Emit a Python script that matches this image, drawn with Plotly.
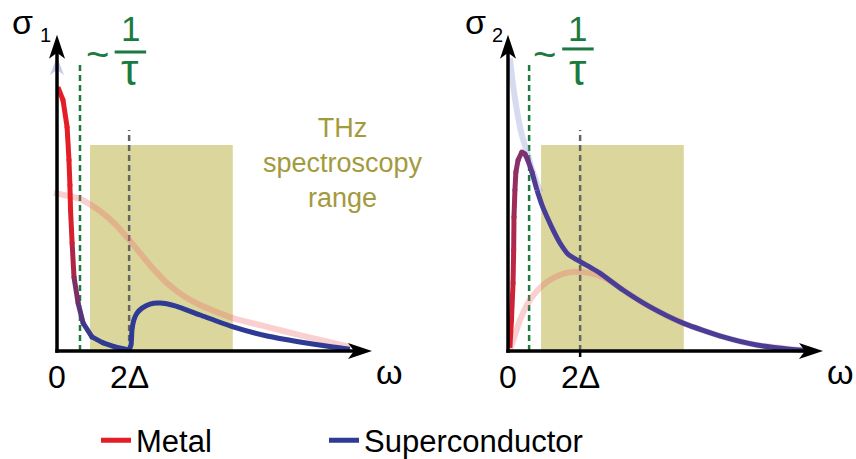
import plotly.graph_objects as go
import numpy as np

# ---------------- data ----------------
# Left panel: sigma_1(omega)
s1_metal_w = [0.03, 0.19, 0.32, 0.38, 0.41, 0.43, 0.48, 0.54, 0.67, 0.83, 1.11, 1.46, 1.84, 2.29]
s1_metal_v = [8.43, 8.02, 7.16, 6.10, 5.30, 4.50, 3.45, 2.36, 1.53, 0.89, 0.45, 0.26, 0.13, 0.03]
s1_sc_w = [2.29, 2.35, 2.38, 2.44, 2.54, 2.70, 2.95, 3.27, 3.75, 4.54, 5.59, 6.67, 7.71, 8.76, 9.30]
s1_sc_v = [0.03, 0.19, 0.67, 0.99, 1.21, 1.37, 1.50, 1.53, 1.44, 1.15, 0.77, 0.48, 0.29, 0.13, 0.06]
s1_broad_w = [-0.10, 0.73, 1.37, 1.84, 2.29, 2.95, 3.49, 4.06, 4.54, 5.59, 6.67, 7.71, 8.76, 9.30]
s1_broad_v = [5.05, 4.86, 4.47, 4.06, 3.55, 2.75, 2.17, 1.73, 1.47, 1.05, 0.77, 0.51, 0.26, 0.13]

# Right panel: sigma_2(omega)
s2_sc_w = [0.06, 0.16, 0.29, 0.44, 0.60, 0.79, 1.02]
s2_sc_v = [9.36, 8.50, 7.64, 6.90, 6.36, 5.72, 5.08]
s2_w = [0.06, 0.11, 0.16, 0.18, 0.19, 0.22, 0.25, 0.32, 0.44, 0.54, 0.63, 0.76, 0.92, 1.08,
        1.24, 1.43, 1.65, 1.90, 2.19, 2.60, 2.92, 3.65, 4.51, 5.56, 6.83, 7.90, 8.95, 9.43]
s2_v = [0.10, 0.99, 2.17, 3.23, 4.28, 5.14, 5.72, 6.10, 6.36, 6.29, 6.10, 5.72, 5.14, 4.66,
        4.28, 3.87, 3.45, 3.10, 2.91, 2.68, 2.49, 1.95, 1.41, 0.89, 0.45, 0.19, 0.06, 0.03]
s2_broad_w = [0.06, 0.22, 0.38, 0.60, 0.79, 1.08, 1.33, 1.65, 1.97, 2.38, 2.83, 3.24, 3.65,
              4.51, 5.56, 6.83, 7.90, 9.27]
s2_broad_v = [0.03, 0.51, 0.99, 1.47, 1.76, 2.08, 2.27, 2.43, 2.52, 2.52, 2.43, 2.24, 1.95,
              1.41, 0.89, 0.45, 0.19, 0.03]

gap_2delta = 2.29
inv_tau = [0.73, 0.67]
thz_range = [1.05, 5.58]
thz_height = 6.58
tick_labels = ["0", "2Δ"]
tick_values = [0, gap_2delta]
series_names = ["Metal", "Superconductor"]

# ---------------- styling ----------------
PX, PY = 31.5, 31.3          # pixels per data unit
W, H = 856, 459
RED = np.array([227, 30, 38])
BLUE_L = np.array([46, 58, 148])
BLUE_R = np.array([72, 62, 152])
PINK = "rgba(236,110,110,0.33)"
LAV = "rgba(150,160,215,0.38)"
OLIVE = "rgb(219,214,155)"
OLIVE_TXT = "rgb(163,154,62)"
GREEN = "rgb(27,122,62)"
FONT = "Liberation Sans, Arial, sans-serif"
AX_TIP_X, AX_TIP_Y = 10.0, 10.1


def rgb(c):
    c = np.clip(np.round(c), 0, 255).astype(int)
    return f"rgb({c[0]},{c[1]},{c[2]})"


fig = go.Figure()


def add_line(x, y, color, width, xa):
    fig.add_trace(go.Scatter(x=x, y=y, mode="lines", xaxis=xa, yaxis="y",
                             line=dict(color=color, width=width, shape="spline", smoothing=0.6),
                             showlegend=False, hoverinfo="skip"))


def add_gradient(x, y, ts, c0, c1, width, xa):
    cols = [c0 * (1 - t) + c1 * t for t in ts]
    for i in range(len(x) - 1):
        fig.add_trace(go.Scatter(x=x[i:i + 2], y=y[i:i + 2], mode="lines", xaxis=xa, yaxis="y",
                                 line=dict(color=rgb((cols[i] + cols[i + 1]) / 2), width=width),
                                 showlegend=False, hoverinfo="skip"))
    fig.add_trace(go.Scatter(x=x[1:-1], y=y[1:-1], mode="markers", xaxis=xa, yaxis="y",
                             marker=dict(size=width, color=[rgb(c) for c in cols[1:-1]], line=dict(width=0)),
                             showlegend=False, hoverinfo="skip"))


# faded curves (behind)
add_line(s1_broad_w, s1_broad_v, PINK, 6, "x")
add_line(s2_broad_w, s2_broad_v, PINK, 6, "x2")
add_line(s2_sc_w, s2_sc_v, LAV, 6, "x2")

# left: metal Drude -> superconductor
t_left = [float(np.clip((4.0 - v) / 3.6, 0, 1)) for v in s1_metal_v]
add_gradient(s1_metal_w, s1_metal_v, t_left, RED, BLUE_L, 5, "x")
add_line(s1_sc_w, s1_sc_v, rgb(BLUE_L), 5, "x")

# right: smooth base curve + gradient red -> violet-blue on the rising part
peak = int(np.argmax(s2_v))
n_grad = peak + 5
add_line(s2_w[n_grad - 1:], s2_v[n_grad - 1:], rgb(BLUE_R), 5, "x2")
t_right = []
for i in range(n_grad):
    if i <= peak:
        t_right.append(0.6 * s2_v[i] / max(s2_v))
    else:
        t_right.append(0.6 + 0.4 * min(1.0, (s2_w[i] - s2_w[peak]) / 0.45))
add_gradient(s2_w[:n_grad], s2_v[:n_grad], t_right, RED, BLUE_R, 5, "x2")

# legend entries
fig.add_trace(go.Scatter(x=[None], y=[None], mode="lines", name=series_names[0],
                         line=dict(color=rgb(RED), width=5), legend="legend"))
fig.add_trace(go.Scatter(x=[None], y=[None], mode="lines", name=series_names[1],
                         line=dict(color=rgb(BLUE_L), width=5), legend="legend2"))

shapes = []
annotations = []


def head(xref, tipx, tipy, vertical, color):
    L, Wd, N = 24, 8, 18
    if vertical:
        p = (f"M {tipx},{tipy} L {tipx + Wd / PX},{tipy - L / PY} L {tipx},{tipy - N / PY} "
             f"L {tipx - Wd / PX},{tipy - L / PY} Z")
    else:
        p = (f"M {tipx},{tipy} L {tipx - L / PX},{tipy + Wd / PY} L {tipx - N / PX},{tipy} "
             f"L {tipx - L / PX},{tipy - Wd / PY} Z")
    return dict(type="path", xref=xref, yref="y", path=p, fillcolor=color,
                line=dict(width=0), layer="above")


for k, xr in enumerate(["x", "x2"]):
    # THz range box
    shapes.append(dict(type="rect", xref=xr, yref="y", x0=thz_range[0], x1=thz_range[1], y0=0,
                       y1=thz_height, fillcolor=OLIVE, line=dict(width=0), layer="below"))
    # 1/tau line
    shapes.append(dict(type="line", xref=xr, yref="y", x0=inv_tau[k], x1=inv_tau[k], y0=0,
                       y1=9.18, line=dict(color=GREEN, width=2.5, dash="6px,4px"), layer="below"))
    # 2Delta line
    shapes.append(dict(type="line", xref=xr, yref="y", x0=gap_2delta, x1=gap_2delta, y0=0,
                       y1=7.06, line=dict(color="rgb(100,100,100)", width=2.5, dash="6px,4px"),
                       layer="below"))
    # axes
    if k == 0:
        shapes.append(dict(type="path", xref=xr, yref="y",
                           path=(f"M 0,{9.39} L {7 / PX},{9.39 - 18 / PY} L 0,{9.39 - 13 / PY} "
                                 f"L {-7 / PX},{9.39 - 18 / PY} Z"),
                           fillcolor="rgb(196,202,232)", line=dict(width=0), layer="above"))
    shapes.append(dict(type="line", xref=xr, yref="y", x0=0, x1=0, y0=-1.7 / PY,
                       y1=AX_TIP_Y - 15 / PY, line=dict(color="black", width=3.5), layer="above"))
    shapes.append(dict(type="line", xref=xr, yref="y", x0=-1.7 / PX, x1=AX_TIP_X - 15 / PX, y0=0,
                       y1=0, line=dict(color="black", width=3.5), layer="above"))
    shapes.append(head(xr, 0, AX_TIP_Y, True, "black"))
    shapes.append(head(xr, AX_TIP_X, 0, False, "black"))
    if k == 1:
        shapes.append(dict(type="line", xref=xr, yref="y", x0=gap_2delta, x1=gap_2delta,
                           y0=-6 / PY, y1=0, line=dict(color="black", width=2.5), layer="above"))

    # tick labels
    for tv, tl in zip(tick_values, tick_labels):
        annotations.append(dict(xref=xr, yref="y", x=tv, y=-0.82, text=tl, showarrow=False,
                                font=dict(size=32, color="black", family=FONT)))
    annotations.append(dict(xref=xr, yref="y", x=10.57, y=-0.66, text="ω", showarrow=False,
                            font=dict(size=34, color="black", family=FONT)))
    # sigma labels
    annotations.append(dict(xref=xr, yref="y", x=-1.08 + 0.05 * k, y=10.52, text="σ", showarrow=False,
                            font=dict(size=34, color="black", family=FONT)))
    annotations.append(dict(xref=xr, yref="y", x=-0.38 + 0.05 * k, y=10.1, text=str(k + 1),
                            showarrow=False, font=dict(size=20, color="black", family=FONT)))
    # ~ 1/tau
    cx = [2.33, 2.22][k]
    annotations.append(dict(xref=xr, yref="y", x=cx - 1.05, y=9.5, text="~", showarrow=False,
                            font=dict(size=40, color=GREEN, family=FONT)))
    annotations.append(dict(xref=xr, yref="y", x=cx, y=10.3, text="1", showarrow=False,
                            font=dict(size=35, color=GREEN, family=FONT)))
    annotations.append(dict(xref=xr, yref="y", x=cx, y=9.0, text="τ", showarrow=False,
                            font=dict(size=44, color=GREEN, family=FONT)))
    shapes.append(dict(type="line", xref=xr, yref="y", x0=cx - 0.5, x1=cx + 0.5,
                       y0=[9.55, 9.65][k], y1=[9.55, 9.65][k],
                       line=dict(color=GREEN, width=3)))

annotations.append(dict(xref="x", yref="y", x=9.09, y=6.0, text="THz<br>spectroscopy<br>range",
                        showarrow=False, font=dict(size=27, color=OLIVE_TXT, family=FONT)))

leg_common = dict(orientation="h", xanchor="left", y=-0.019, yanchor="bottom",
                  font=dict(size=31, color="black", family=FONT), bgcolor="rgba(0,0,0,0)")

fig.update_layout(
    width=W, height=H, margin=dict(l=0, r=0, t=0, b=0, autoexpand=False),
    paper_bgcolor="white", plot_bgcolor="white",
    xaxis=dict(domain=[0, 0.5], range=[-57 / PX, (428 - 57) / PX], visible=False),
    xaxis2=dict(domain=[0.5, 1], range=[(428 - 508) / PX, (856 - 508) / PX], visible=False),
    yaxis=dict(domain=[0, 1], range=[-(H - 351) / PY, 351 / PY], visible=False),
    shapes=shapes, annotations=annotations,
    showlegend=True,
    legend=dict(x=96 / W, **leg_common),
    legend2=dict(x=324 / W, **leg_common),
)

fig.write_html("out.html", config={"displayModeBar": False},
               post_script="document.body.style.margin='0';")
